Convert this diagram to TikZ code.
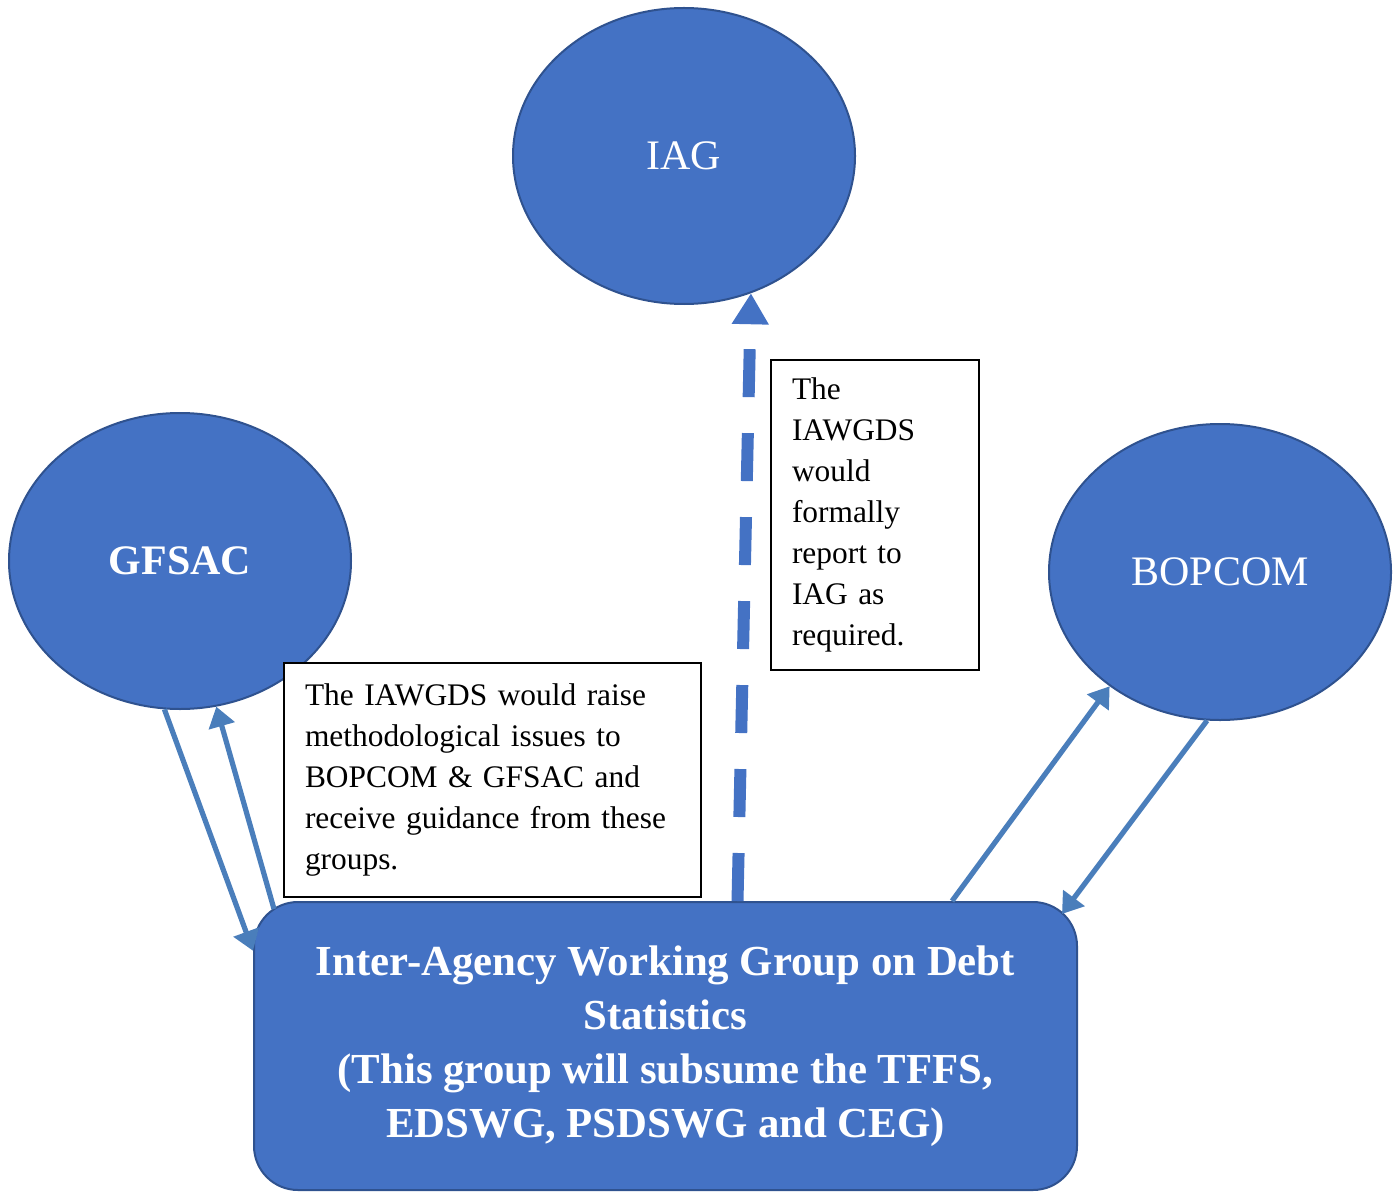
\documentclass[tikz,border=0pt]{standalone}
\usepackage{fontspec}
\setmainfont{Liberation Serif}
\usetikzlibrary{shapes.geometric,arrows.meta,calc}
\definecolor{bluefill}{HTML}{4472C4}
\definecolor{blueedge}{HTML}{2F528F}
\definecolor{arrowc}{HTML}{4A7EBB}
\tikzset{
  bubble/.style={ellipse, fill=bluefill, draw=blueedge, line width=1pt, minimum width=171pt, minimum height=148pt, inner sep=0pt, text=white, font=\fontsize{21}{25}\selectfont},
  mainbox/.style={rectangle, rounded corners=22pt, fill=bluefill, draw=blueedge, line width=1pt, minimum width=411.5pt, minimum height=144pt, text=white, align=center, font=\fontsize{21.4}{27}\selectfont\bfseries},
  notebox/.style={rectangle, fill=white, draw=black, line width=1pt, inner xsep=10.5pt, align=left, font=\fontsize{15.7}{20.5}\selectfont},
  arr/.style={draw=arrowc, line width=2.6pt, -{Triangle[width=13pt,length=10pt]}},
  dasharr/.style={draw=bluefill, line width=6pt, dash pattern=on 24pt off 18pt, -{Triangle[width=17.5pt,length=15.5pt]}}
}
\begin{document}
\begin{tikzpicture}[x=0.5pt,y=-0.5pt]
\useasboundingbox (0,0) rectangle (1400,1192);
\node[bubble] (iag) at (684,156) {IAG};
\node[bubble] (gfsac) at (180,561) {\bfseries GFSAC};
\node[bubble] (bopcom) at (1220,572) {BOPCOM};
\node[mainbox] (main) at (665.5,1046) {Inter-Agency Working Group on Debt\\Statistics\\(This group will subsume the TFFS,\\EDSWG, PSDSWG and CEG)};
\node[notebox, text width=187.5pt, minimum width=208.5pt, minimum height=117pt] (note2) at (492.5,780) {The IAWGDS would raise\\methodological issues to\\BOPCOM \& GFSAC and\\receive guidance from these\\groups.};
\node[notebox, text width=83pt, minimum width=104pt, minimum height=155pt] (note1) at (875,515) {The\\IAWGDS\\would\\formally\\report to\\IAG as\\required.};
% connectors
\draw[arr] (gfsac.-96) -- (main.167);
\draw[arr] ([shift={(21,8)}]main.north west) -- (gfsac.-76);
\draw[arr] ([shift={(286.5,0)}]main.north) -- (bopcom.-134);
\draw[arr] (bopcom.-95.5) -- ([shift={(-16,13)}]main.north east);
\draw[dasharr] ([shift={(72,0)}]main.north) -- (iag.-64);
\end{tikzpicture}
\end{document}
